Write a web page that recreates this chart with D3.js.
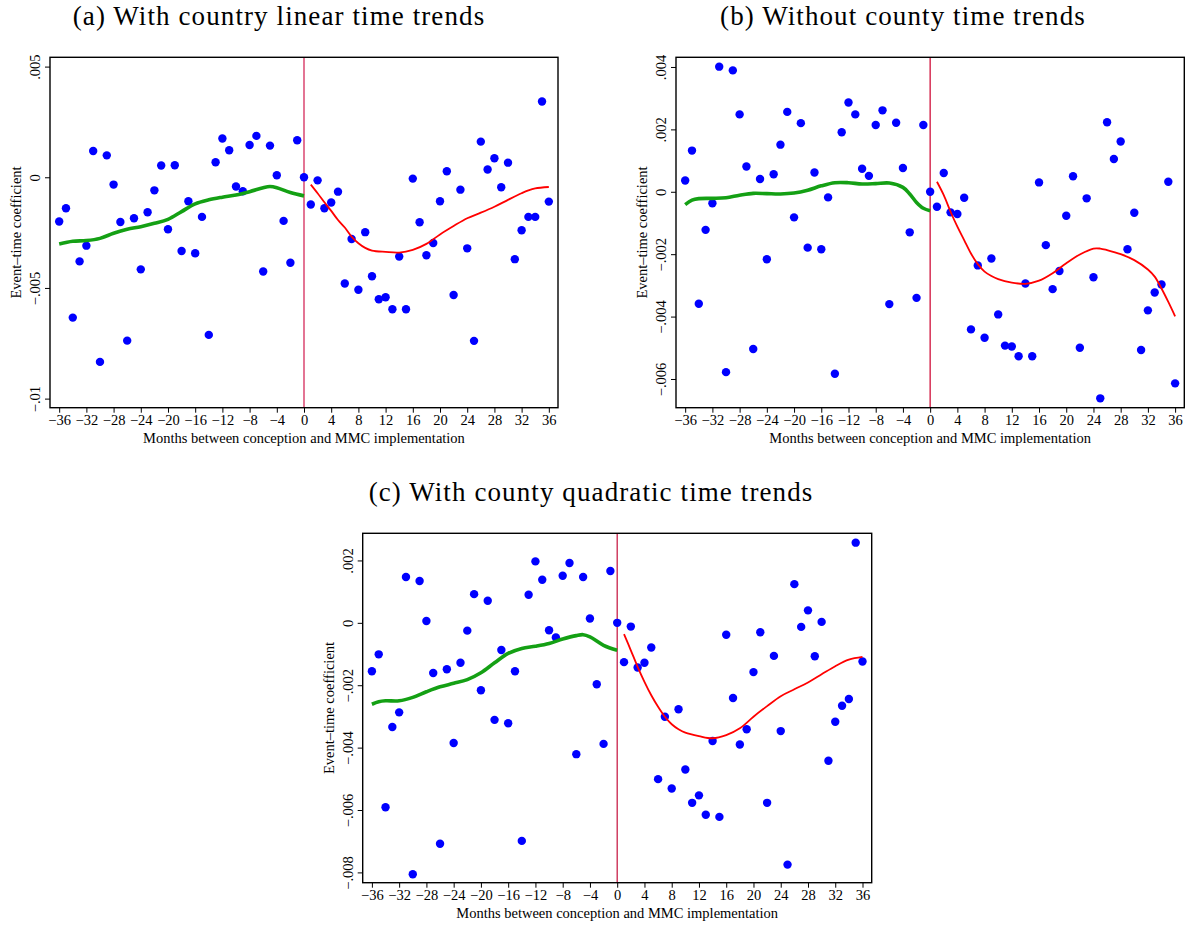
<!DOCTYPE html>
<html>
<head>
<meta charset="utf-8">
<script src="https://cdn.jsdelivr.net/npm/d3@7"></script>
<style>
  body { margin: 0; background: #fff; }
  svg text { font-family: "Liberation Serif", "Times New Roman", serif; }
</style>
</head>
<body>
<div id="chart"></div>
<script>
// months between conception and MMC implementation
const months = [-36,-35,-34,-33,-32,-31,-30,-29,-28,-27,-26,-25,-24,-23,-22,-21,-20,-19,-18,-17,-16,-15,-14,-13,-12,-11,-10,-9,-8,-7,-6,-5,-4,-3,-2,-1,0,
  1,2,3,4,5,6,7,8,9,10,11,12,13,14,15,16,17,18,19,20,21,22,23,24,25,26,27,28,29,30,31,32,33,34,35,36]
const xTicks = [-36,-32,-28,-24,-20,-16,-12,-8,-4,0,4,8,12,16,20,24,28,32,36]

// event-time coefficients, in units of 0.001
const coefA = [-2.00,-1.40,-6.34,-3.80,-3.09,1.19,-8.34,0.99,-0.33,-2.02,-7.38,-1.85,-4.16,-1.58,-0.59,0.53,-2.35,0.54,-3.33,-1.08,-3.43,-1.79,-7.12,0.68,1.75,1.22,-0.42,-0.63,1.46,1.87,-4.26,1.43,0.09,-1.97,-3.86,1.67,0,
  -1.23,-0.14,-1.40,-1.14,-0.65,-4.80,-2.79,-5.08,-2.48,-4.47,-5.51,-5.42,-5.96,-3.58,-5.96,-0.06,-2.03,-3.52,-2.97,-1.08,0.27,-5.32,-0.56,-3.21,-7.39,1.61,0.35,0.86,-0.45,0.66,-3.70,-2.39,-1.79,-1.79,3.42,-1.10]
const coefB = [0.36,1.32,-3.59,-1.22,-0.37,4.01,-5.78,3.89,2.48,0.81,-5.04,0.41,-2.16,0.56,1.51,2.56,-0.82,2.20,-1.79,0.62,-1.84,-0.18,-5.83,1.91,2.86,2.48,0.74,0.51,2.14,2.61,-3.60,2.21,0.76,-1.30,-3.40,2.14,0,
  -0.48,0.60,-0.66,-0.71,-0.19,-4.41,-2.36,-4.68,-2.14,-3.93,-4.93,-4.96,-5.27,-2.94,-5.27,0.30,-1.71,-3.12,-2.54,-0.77,0.50,-5.00,-0.21,-2.74,-6.62,2.23,1.05,1.61,-1.84,-0.67,-5.07,-3.80,-3.23,-2.97,0.32,-6.14]
const coefC = [-1.55,-1.01,-5.91,-3.34,-2.87,1.47,-8.06,1.34,0.06,-1.61,-7.08,-1.49,-3.85,-1.28,-0.25,0.92,-2.16,0.71,-3.11,-0.87,-3.22,-1.55,-6.99,0.90,1.97,1.38,-0.24,-0.47,1.51,1.92,-4.21,1.47,0.14,-1.97,-3.88,1.66,0,
  -1.26,-0.12,-1.43,-1.28,-0.79,-5.01,-3.01,-5.31,-2.77,-4.70,-5.77,-5.53,-6.15,-3.79,-6.22,-0.38,-2.41,-3.90,-3.41,-1.58,-0.30,-5.77,-1.06,-3.47,-7.75,1.24,-0.13,0.40,-1.07,0.03,-4.42,-3.17,-2.66,-2.44,2.57,-1.24]

// smoothed fits before (green) and after (red) implementation
const preMonthsA = [-36,-34,-32,-30,-28,-26,-24,-22,-20,-18,-16,-14,-12,-10,-8,-6,-5,-4,-2,0]
const preFitA = [-3.01,-2.89,-2.86,-2.76,-2.53,-2.35,-2.23,-2.08,-1.90,-1.55,-1.20,-1.02,-0.90,-0.80,-0.65,-0.47,-0.42,-0.47,-0.69,-0.84]
const postMonthsA = [1,2,3,4,5,6,7,8,9,10,12,14,16,18,20,22,24,26,28,30,32,33,34,36]
const postFitA = [-0.33,-0.72,-1.13,-1.52,-1.93,-2.27,-2.68,-2.98,-3.19,-3.31,-3.37,-3.40,-3.28,-3.01,-2.58,-2.20,-1.85,-1.60,-1.33,-1.02,-0.72,-0.59,-0.50,-0.44]

const preMonthsB = [-36,-35,-34,-32,-30,-28,-26,-24,-22,-20,-18,-16,-14,-12,-10,-8,-6,-4,-3,-2,-1,0]
const preFitB = [-0.41,-0.27,-0.22,-0.21,-0.19,-0.11,-0.05,-0.06,-0.07,-0.04,0.05,0.19,0.29,0.29,0.25,0.26,0.28,0.14,-0.07,-0.34,-0.53,-0.61]
const postMonthsB = [1,2,3,4,5,6,7,8,9,10,12,14,16,18,20,22,24,25,26,28,30,32,33,34,35,36]
const postFitB = [0.32,-0.11,-0.64,-1.12,-1.55,-1.98,-2.32,-2.56,-2.70,-2.80,-2.91,-2.95,-2.85,-2.61,-2.29,-2.01,-1.82,-1.82,-1.87,-2.00,-2.19,-2.49,-2.72,-3.10,-3.53,-3.99]

const preMonthsC = [-36,-35,-34,-32,-30,-28,-26,-24,-22,-20,-18,-16,-14,-12,-10,-8,-6,-5,-4,-2,0]
const preFitC = [-2.61,-2.53,-2.50,-2.50,-2.39,-2.21,-2.05,-1.94,-1.82,-1.60,-1.28,-0.98,-0.82,-0.75,-0.66,-0.52,-0.41,-0.38,-0.45,-0.72,-0.88]
const postMonthsC = [1,2,3,4,5,6,7,8,9,10,12,14,16,18,20,22,24,26,28,30,32,34,36]
const postFitC = [-0.36,-0.88,-1.41,-1.89,-2.32,-2.69,-3.01,-3.25,-3.41,-3.52,-3.63,-3.70,-3.60,-3.38,-3.01,-2.67,-2.35,-2.13,-1.91,-1.65,-1.39,-1.18,-1.09]

// y ticks (units of 0.001) and their labels
const yTicksA = [5, 0, -5, -10]
const yLabelsA = [".005", "0", "\u2212.005", "\u2212.01"]
const yTicksB = [4, 2, 0, -2, -4, -6]
const yLabelsB = [".004", ".002", "0", "\u2212.002", "\u2212.004", "\u2212.006"]
const yTicksC = [2, 0, -2, -4, -6, -8]
const yLabelsC = [".002", "0", "\u2212.002", "\u2212.004", "\u2212.006", "\u2212.008"]

const titles = ["(a) With country linear time trends", "(b) Without county time trends", "(c) With county quadratic time trends"]

const svg = d3.select("#chart").append("svg")
  .attr("width", 1186)
  .attr("height", 926)

function drawPanel(p) {
  const g = svg.append("g").attr("transform", "translate(" + p.left + "," + p.top + ")")
  const w = p.width, h = p.height

  const x = d3.scaleLinear().domain([-37.35, 37.35]).range([0, w])
  const y = d3.scaleLinear().domain(p.yDomain).range([h, 0])

  // title
  svg.append("text")
    .attr("x", p.titleX)
    .attr("y", p.titleY)
    .attr("text-anchor", "middle")
    .style("font-size", "27px")
    .style("letter-spacing", "1.1px")
    .text(p.title)

  // x axis
  const xAxis = g.append("g")
    .attr("transform", "translate(0," + h + ")")
    .call(d3.axisBottom(x).tickValues(xTicks).tickSize(5).tickPadding(2)
      .tickFormat(d => d < 0 ? "\u2212" + Math.abs(d) : d))
  xAxis.select(".domain").remove()
  xAxis.selectAll("line").attr("stroke", "#000").attr("stroke-width", 1)
  xAxis.selectAll("text").style("font-size", "14.5px").attr("fill", "#000")

  // y axis
  const yAxis = g.append("g")
    .call(d3.axisLeft(y).tickValues(p.yTicks).tickSize(5)
      .tickFormat((d, i) => p.yLabels[i]))
  yAxis.select(".domain").remove()
  yAxis.selectAll("line").attr("stroke", "#000").attr("stroke-width", 1)
  yAxis.selectAll("text")
    .attr("x", null).attr("dy", null)
    .attr("text-anchor", "middle")
    .attr("transform", "translate(-10,0) rotate(-90)")
    .style("font-size", "14.5px").attr("fill", "#000")

  // axis titles
  g.append("text")
    .attr("x", x(0))
    .attr("y", h + 35)
    .attr("text-anchor", "middle")
    .style("font-size", "14.5px")
    .text("Months between conception and MMC implementation")
  g.append("text")
    .attr("transform", "translate(" + (-29) + "," + (h / 2) + ") rotate(-90)")
    .attr("text-anchor", "middle")
    .style("font-size", "14.5px")
    .text("Event\u2013time coefficient")

  // vertical line at implementation
  g.append("line")
    .attr("x1", x(0)).attr("x2", x(0))
    .attr("y1", 0).attr("y2", h)
    .attr("stroke", p.vColor)
    .attr("stroke-width", 1.3)

  // points
  g.selectAll(".dot")
    .data(months)
    .enter()
    .append("circle")
      .attr("class", "dot")
      .attr("cx", d => x(d))
      .attr("cy", (d, i) => y(p.coef[i]))
      .attr("r", 4.2)
      .style("fill", "#0000ff")

  const line = d3.line()
    .x(d => x(d[0]))
    .y(d => y(d[1]))
    .curve(d3.curveCatmullRom.alpha(0.5))

  g.append("path")
    .datum(p.preMonths.map((m, i) => [m, p.preFit[i]]))
    .attr("d", line)
    .attr("fill", "none")
    .attr("stroke", "#14a014")
    .attr("stroke-width", 3.6)

  g.append("path")
    .datum(p.postMonths.map((m, i) => [m, p.postFit[i]]))
    .attr("d", line)
    .attr("fill", "none")
    .attr("stroke", "#ff0000")
    .attr("stroke-width", 1.8)

  // frame
  g.append("rect")
    .attr("width", w).attr("height", h)
    .attr("fill", "none")
    .attr("stroke", "#000")
    .attr("stroke-width", 1.4)
}

drawPanel({
  left: 50, top: 57.3, width: 508, height: 350.4,
  yDomain: [-10.41, 5.42], yTicks: yTicksA, yLabels: yLabelsA,
  coef: coefA, preMonths: preMonthsA, preFit: preFitA, postMonths: postMonthsA, postFit: postFitA,
  vColor: "#d42a5a", title: titles[0], titleX: 279, titleY: 25
})
drawPanel({
  left: 676, top: 57.3, width: 508.3, height: 350.4,
  yDomain: [-6.92, 4.31], yTicks: yTicksB, yLabels: yLabelsB,
  coef: coefB, preMonths: preMonthsB, preFit: preFitB, postMonths: postMonthsB, postFit: postFitB,
  vColor: "#d0103a", title: titles[1], titleX: 903, titleY: 25
})
drawPanel({
  left: 362.7, top: 533.3, width: 509, height: 349.4,
  yDomain: [-8.33, 2.87], yTicks: yTicksC, yLabels: yLabelsC,
  coef: coefC, preMonths: preMonthsC, preFit: preFitC, postMonths: postMonthsC, postFit: postFitC,
  vColor: "#c8204a", title: titles[2], titleX: 591, titleY: 501
})
</script>
</body>
</html>
